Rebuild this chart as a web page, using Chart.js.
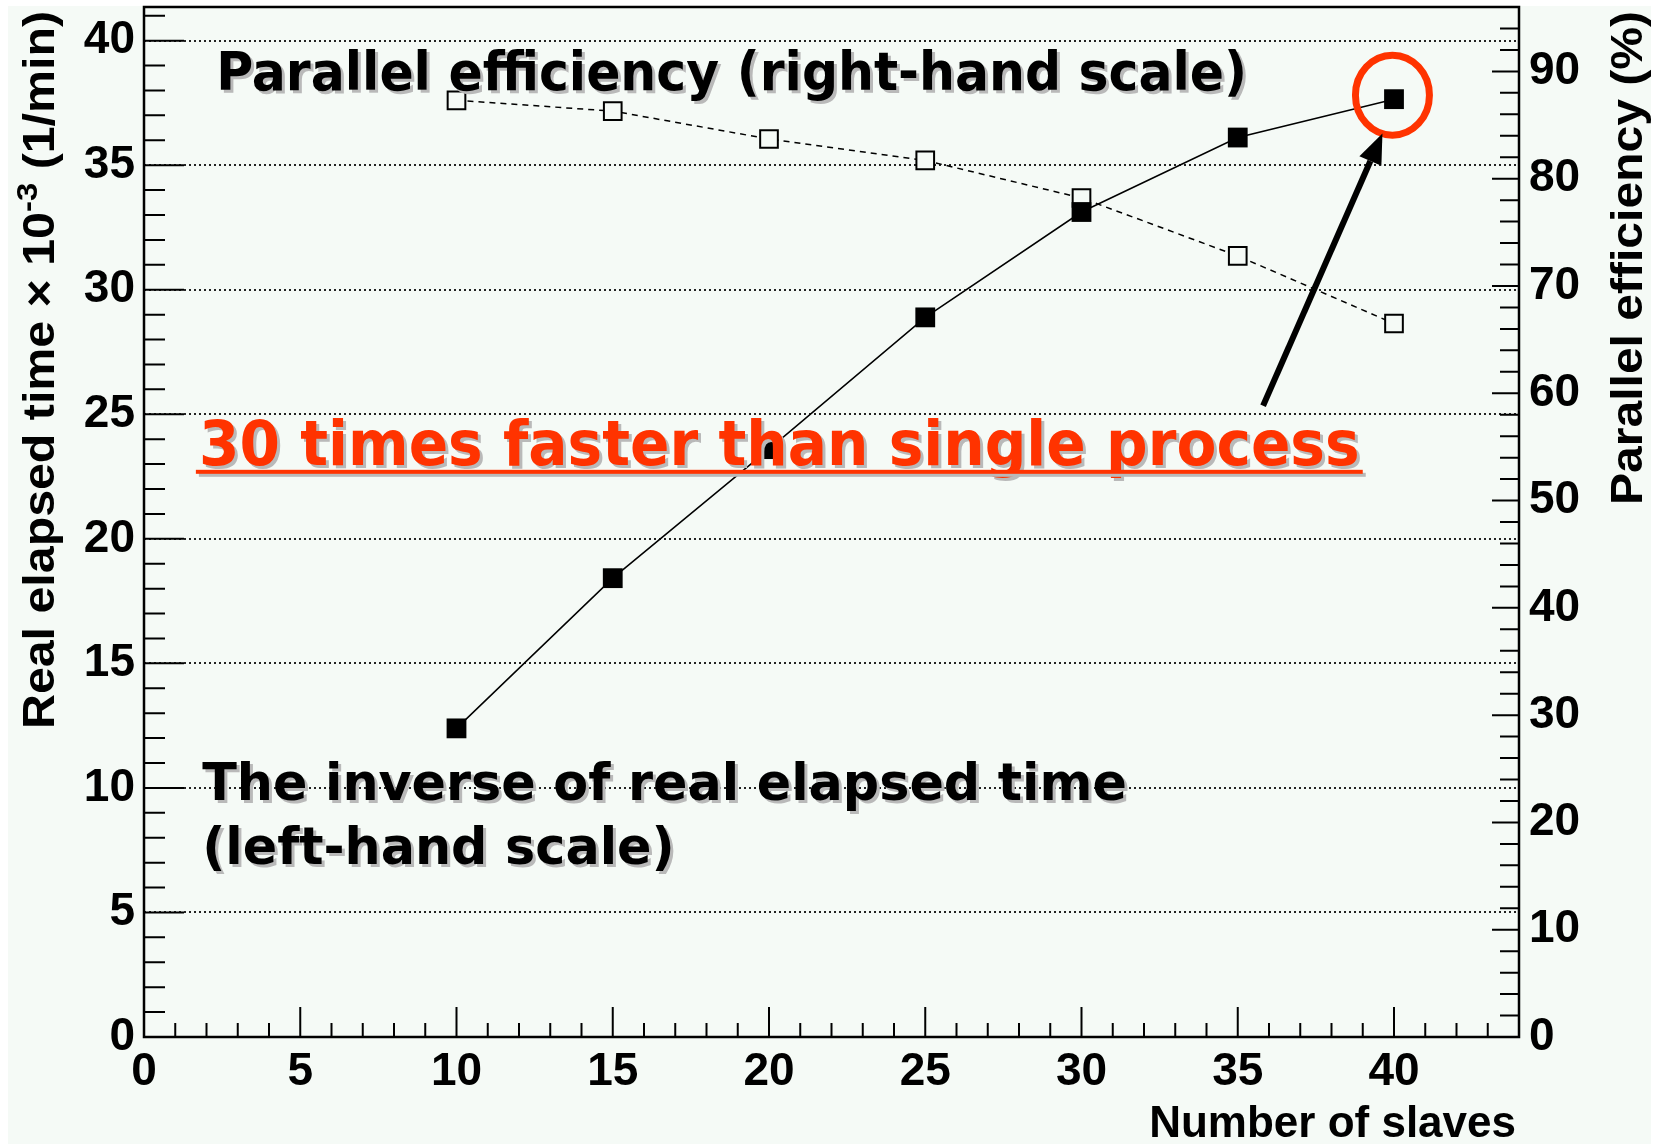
<!DOCTYPE html>
<html>
<head>
<meta charset="utf-8">
<script src="https://cdn.jsdelivr.net/npm/chart.js@4.4.1/dist/chart.umd.min.js"></script>
<style>
  html, body { margin: 0; padding: 0; background: #fff; }
  #wrap { width: 1668px; height: 1144px; }
</style>
</head>
<body>
<div id="wrap"><canvas id="chart" width="1668" height="1144"></canvas></div>
<script>
const slaves = [10, 15, 20, 25, 30, 35, 40];
const inverseTime = [12.39, 18.42, 23.6, 28.89, 33.12, 36.11, 37.65];
const efficiency = [87.3, 86.3, 83.7, 81.7, 78.2, 72.8, 66.5];

const xTicks = [0, 5, 10, 15, 20, 25, 30, 35, 40];
const leftTicks = [0, 5, 10, 15, 20, 25, 30, 35, 40];
const rightTicks = [0, 10, 20, 30, 40, 50, 60, 70, 80, 90];

const bg = '#f5faf6';
const red = '#ff3300';
const sans = "'Liberation Sans', Arial, sans-serif";
const tickFont = { family: sans, size: 46, weight: 'bold' };
const noteFont = "'DejaVu Sans', 'Open Sans', sans-serif";

// draw text squeezed so it spans x0..x1, with a grey drop shadow
function fitText(ctx, text, x0, x1, base, font, color, sx) {
  ctx.save();
  ctx.font = font;
  const w = ctx.measureText(text).width;
  const s = sx || (x1 - x0) / w;
  ctx.translate(x0, base);
  ctx.scale(s, 1);
  ctx.fillStyle = '#b9b9b9';
  ctx.fillText(text, 3 / s, 3);
  ctx.fillStyle = color;
  ctx.fillText(text, 0, 0);
  ctx.restore();
  return s;
}

// rotated axis title made of pieces [text, size, raise]
function vertTitle(ctx, parts, cx, yBottom, yTop) {
  ctx.save();
  ctx.translate(cx, yBottom);
  ctx.rotate(-Math.PI / 2);
  ctx.fillStyle = '#000';
  ctx.textBaseline = 'alphabetic';
  let total = 0;
  parts.forEach(p => {
    ctx.font = 'bold ' + p[1] + 'px ' + sans;
    total += ctx.measureText(p[0]).width;
  });
  ctx.scale((yBottom - yTop) / total, 1);
  let pos = 0;
  parts.forEach(p => {
    ctx.font = 'bold ' + p[1] + 'px ' + sans;
    ctx.fillText(p[0], pos, 16 + p[2]);
    pos += ctx.measureText(p[0]).width;
  });
  ctx.restore();
}

function drawFrameAndTicks(chart) {
  const { ctx, chartArea: a, scales } = chart;
  const { x, y, y2 } = scales;
  ctx.save();
  ctx.strokeStyle = '#000';
  ctx.lineWidth = 2;
  ctx.beginPath();
  for (let v = 0; v <= y.max; v += 1) {
    const py = y.getPixelForValue(v);
    const len = v % 5 === 0 ? 40 : 21;
    ctx.moveTo(a.left, py);
    ctx.lineTo(a.left + len, py);
  }
  for (let v = 0; v <= x.max; v += 1) {
    const px = x.getPixelForValue(v);
    const len = v % 5 === 0 ? 30 : 14;
    ctx.moveTo(px, a.bottom);
    ctx.lineTo(px, a.bottom - len);
  }
  for (let v = 0; v <= y2.max; v += 2) {
    const py = y2.getPixelForValue(v);
    const len = v % 10 === 0 ? 27 : 19;
    ctx.moveTo(a.right, py);
    ctx.lineTo(a.right - len, py);
  }
  ctx.stroke();
  ctx.lineWidth = 2.5;
  ctx.strokeRect(a.left, a.top, a.right - a.left, a.bottom - a.top);
  ctx.restore();
}

function drawNotes(chart) {
  const { ctx, scales } = chart;
  const { x, y } = scales;
  const X = v => x.getPixelForValue(v);
  const Y = v => y.getPixelForValue(v);

  fitText(ctx, 'Parallel efficiency (right-hand scale)', X(2.31), X(35.3), Y(38.0), 'bold 53px ' + noteFont, '#000');

  fitText(ctx, '30 times faster than single process', X(1.76), X(38.9), Y(22.97), 'bold 62px ' + noteFont, red);
  ctx.save();
  ctx.fillStyle = '#b9b9b9';
  ctx.fillRect(X(1.66) + 3, Y(22.69) - 2 + 3, X(39.0) - X(1.66), 4);
  ctx.fillStyle = red;
  ctx.fillRect(X(1.66), Y(22.69) - 2, X(39.0) - X(1.66), 4);
  ctx.restore();

  const s = fitText(ctx, 'The inverse of real elapsed time', X(1.86), X(31.45), Y(9.52), 'bold 52px ' + noteFont, '#000');
  fitText(ctx, '(left-hand scale)', X(1.86), 0, Y(6.95), 'bold 52px ' + noteFont, '#000', s);

  // circle round the last point
  ctx.save();
  ctx.strokeStyle = red;
  ctx.lineWidth = 7;
  ctx.beginPath();
  ctx.ellipse(X(39.95), Y(37.81), 37, 40, 0, 0, Math.PI * 2);
  ctx.stroke();
  ctx.restore();

  // arrow
  const x0 = X(35.81), y0 = Y(25.34), x1 = X(39.63), y1 = Y(36.27);
  const ang = Math.atan2(y1 - y0, x1 - x0);
  const hl = 30, hw = 12;
  const bx = x1 - hl * Math.cos(ang), by = y1 - hl * Math.sin(ang);
  ctx.save();
  ctx.strokeStyle = '#000';
  ctx.fillStyle = '#000';
  ctx.lineWidth = 6;
  ctx.beginPath();
  ctx.moveTo(x0, y0);
  ctx.lineTo(bx, by);
  ctx.stroke();
  ctx.beginPath();
  ctx.moveTo(x1, y1);
  ctx.lineTo(bx + hw * Math.sin(ang), by - hw * Math.cos(ang));
  ctx.lineTo(bx - hw * Math.sin(ang), by + hw * Math.cos(ang));
  ctx.closePath();
  ctx.fill();
  ctx.restore();
}

const rootStyle = {
  id: 'rootStyle',
  beforeDraw(chart) {
    const ctx = chart.ctx;
    ctx.save();
    ctx.fillStyle = '#fff';
    ctx.fillRect(0, 0, chart.width, chart.height);
    ctx.fillStyle = bg;
    ctx.fillRect(8, 6, 1643, 1138);
    ctx.restore();
  },
  afterDraw(chart) {
    const ctx = chart.ctx;
    drawFrameAndTicks(chart);
    drawNotes(chart);
    vertTitle(ctx, [['Real elapsed time \u00d7 10', 44, 0], ['-3', 30, -17], [' (1/min)', 44, 0]], 38, 729, 11);
    vertTitle(ctx, [['Parallel efficiency (%)', 44, 0]], 1626, 505, 11);
    ctx.save();
    ctx.font = 'bold 44px ' + sans;
    ctx.fillStyle = '#000';
    ctx.textAlign = 'right';
    ctx.fillText('Number of slaves', chart.chartArea.right - 3, 1137);
    ctx.restore();
  }
};

function noPad(s) {
  s.paddingTop = 0;
  s.paddingBottom = 0;
  s.paddingLeft = 0;
  s.paddingRight = 0;
}

new Chart(document.getElementById('chart'), {
  type: 'line',
  data: {
    datasets: [
      {
        label: 'The inverse of real elapsed time',
        data: slaves.map((s, i) => ({ x: s, y: inverseTime[i] })),
        yAxisID: 'y',
        borderColor: '#000',
        borderWidth: 1.5,
        pointStyle: 'rect',
        pointRadius: 14,
        pointBackgroundColor: '#000',
        pointBorderWidth: 0
      },
      {
        label: 'Parallel efficiency',
        data: slaves.map((s, i) => ({ x: s, y: efficiency[i] })),
        yAxisID: 'y2',
        borderColor: '#000',
        borderWidth: 1.5,
        borderDash: [6, 5],
        pointStyle: 'rect',
        pointRadius: 12.5,
        pointBackgroundColor: bg,
        pointBorderColor: '#000',
        pointBorderWidth: 2
      }
    ]
  },
  options: {
    responsive: false,
    animation: false,
    devicePixelRatio: 1,
    layout: { padding: { top: 7, left: 0, right: 0, bottom: 0 }, autoPadding: false },
    plugins: { legend: { display: false }, tooltip: { enabled: false } },
    scales: {
      x: {
        type: 'linear', min: 0, max: 44,
        afterFit: s => { s.height = 107; noPad(s); },
        afterBuildTicks: s => { s.ticks = xTicks.map(v => ({ value: v })); },
        grid: { display: false },
        border: { display: false },
        ticks: { font: tickFont, color: '#000', padding: 0, maxRotation: 0, autoSkip: false }
      },
      y: {
        position: 'left', min: 0, max: 41.35,
        afterFit: s => { s.width = 144; noPad(s); },
        afterBuildTicks: s => { s.ticks = leftTicks.map(v => ({ value: v })); },
        grid: { color: '#222', lineWidth: 2, drawTicks: false },
        border: { display: false, dash: [2, 3] },
        ticks: { font: tickFont, color: '#000', padding: 9, autoSkip: false }
      },
      y2: {
        position: 'right', min: 0, max: 96,
        afterFit: s => { s.width = 149; noPad(s); },
        afterBuildTicks: s => { s.ticks = rightTicks.map(v => ({ value: v })); },
        grid: { display: false, drawTicks: false },
        border: { display: false },
        ticks: { font: tickFont, color: '#000', padding: 10, autoSkip: false }
      }
    }
  },
  plugins: [rootStyle]
});
</script>
</body>
</html>
